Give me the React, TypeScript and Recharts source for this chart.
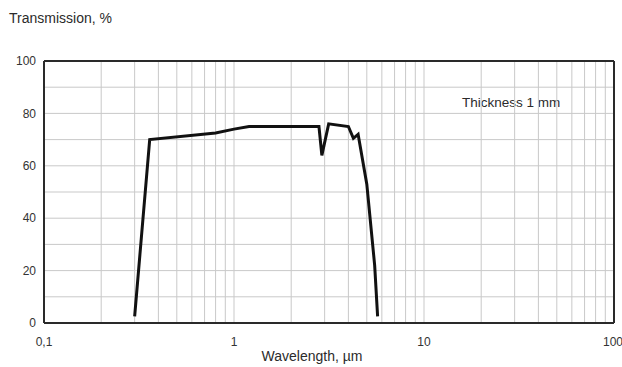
import { LineChart, Line, XAxis, YAxis, ReferenceLine } from "recharts";

// spectrum
const wavelength = [0.3, 0.36, 0.8, 1.0, 1.2, 2.8, 2.9, 3.15, 4.0, 4.25, 4.5, 5.0, 5.5, 5.7];
const transmission = [2.5, 70, 72.5, 74, 75, 75, 64, 76, 75, 70.5, 72, 53, 22, 2.5];

const xTicks = [0.1, 1, 10, 100];
const yTicks = [0, 20, 40, 60, 80, 100];
const xGrid = [0.2, 0.3, 0.4, 0.5, 0.6, 0.7, 0.8, 0.9, 1, 2, 3, 4, 5, 6, 7, 8, 9, 10, 20, 30, 40, 50, 60, 70, 80, 90];
const yGrid = [10, 20, 30, 40, 50, 60, 70, 80, 90];

const data = wavelength.map((w, i) => ({ w, t: transmission[i] }));

const font = "'Liberation Sans', Arial, sans-serif";
const gridColor = "#c9c9c9";
const frameColor = "#2a2a2a";

export default function App() {
    return (
        <div style={{ position: "fixed", left: 0, top: 0, width: 622, height: 367, background: "#fff", fontFamily: font }}>
            <div style={{ position: "absolute", left: 9, top: 10, fontSize: 14, color: "#2b2b2b" }}>Transmission, %</div>
            <div style={{ position: "absolute", left: 0, width: 624, textAlign: "center", top: 348, fontSize: 14, color: "#2b2b2b" }}>
                Wavelength, µm
            </div>
            <div style={{ position: "absolute", left: 462, top: 95, fontSize: 13.5, color: "#2b2b2b" }}>Thickness 1 mm</div>
            <LineChart width={622} height={367} data={data} margin={{ top: 61, right: 8, bottom: 0, left: 8 }}>
                <XAxis
                    dataKey="w"
                    type="number"
                    scale="log"
                    domain={[0.1, 100]}
                    ticks={xTicks}
                    allowDataOverflow
                    axisLine={false}
                    tickLine={false}
                    tickSize={12}
                    height={44}
                    tick={{ fill: "#333", fontSize: 12, fontFamily: font }}
                    tickFormatter={(v) => String(v).replace(".", ",")}
                />
                <YAxis
                    type="number"
                    domain={[0, 100]}
                    ticks={yTicks}
                    axisLine={false}
                    tickLine={false}
                    width={36}
                    tick={{ fill: "#333", fontSize: 12, fontFamily: font }}
                />
                {xGrid.map((v) => (
                    <ReferenceLine key={"x" + v} x={v} stroke={gridColor} strokeWidth={1} />
                ))}
                {yGrid.map((v) => (
                    <ReferenceLine key={"y" + v} y={v} stroke={gridColor} strokeWidth={1} />
                ))}
                <ReferenceLine x={0.1} stroke={frameColor} strokeWidth={2} />
                <ReferenceLine x={100} stroke={frameColor} strokeWidth={2} />
                <ReferenceLine y={0} stroke={frameColor} strokeWidth={2} />
                <ReferenceLine y={100} stroke={frameColor} strokeWidth={2} />
                <Line
                    type="linear"
                    dataKey="t"
                    stroke="#111"
                    strokeWidth={3}
                    dot={false}
                    isAnimationActive={false}
                    strokeLinejoin="miter"
                />
            </LineChart>
        </div>
    );
}
